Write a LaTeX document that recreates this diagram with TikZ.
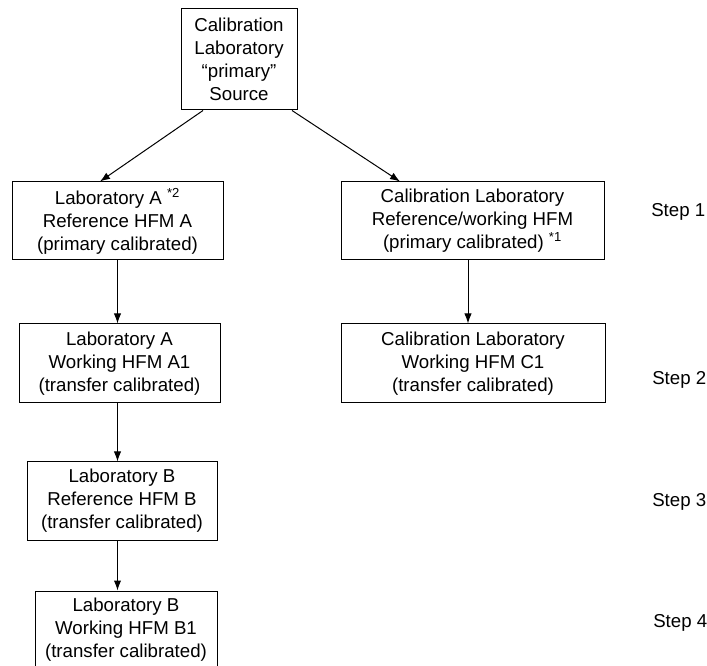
\documentclass[tikz,border=0pt]{standalone}
\usepackage{fontspec}
\setmainfont{Liberation Sans}
\usetikzlibrary{arrows.meta}

\begin{document}
\begin{tikzpicture}[x=0.75pt,y=0.75pt,yscale=-1,xscale=1,
  labbox/.style={draw, line width=0.75, align=center, inner sep=0pt, font=\fontsize{14}{17.25}\selectfont},
  steplabel/.style={anchor=west, inner sep=0pt, font=\fontsize{14}{17.25}\selectfont},
  flow/.style={line width=0.75, -{Latex[length=7.5pt,width=5.5pt]}}]
\useasboundingbox (0,0) rectangle (707,666);

%Shape: Rectangle [source]
\node [labbox, minimum width=116*0.75pt, minimum height=101*0.75pt] (src) at (239,59.5) {Calibration\\Laboratory\\“primary”\\Source};

%Shape: Rectangle [step 1]
\node [labbox, minimum width=211*0.75pt, minimum height=78*0.75pt] (refA) at (117.5,221) {Laboratory A \textsuperscript{*2}\\Reference HFM A\\(primary calibrated)};
\node [labbox, minimum width=263*0.75pt, minimum height=78*0.75pt] (refC) at (472.5,221) {Calibration Laboratory\\Reference/working HFM\\(primary calibrated) \textsuperscript{*1}};

%Shape: Rectangle [step 2]
\node [labbox, minimum width=201*0.75pt, minimum height=79*0.75pt] (wrkA) at (119.5,363.5) {Laboratory A\\Working HFM A1\\(transfer calibrated)};
\node [labbox, minimum width=264*0.75pt, minimum height=79*0.75pt] (wrkC) at (473,363.5) {Calibration Laboratory\\Working HFM C1\\(transfer calibrated)};

%Shape: Rectangle [step 3]
\node [labbox, minimum width=190*0.75pt, minimum height=78*0.75pt] (refB) at (122,501) {Laboratory B\\Reference HFM B\\(transfer calibrated)};

%Shape: Rectangle [step 4]
\node [labbox, minimum width=182*0.75pt, minimum height=78*0.75pt] (wrkB) at (126,630) {Laboratory B\\Working HFM B1\\(transfer calibrated)};

%Straight Lines
\draw [flow] ([xshift=-36*0.75pt]src.south) -- ([xshift=-17.5*0.75pt]refA.north);
\draw [flow] ([xshift=53*0.75pt]src.south) -- ([xshift=-72.5*0.75pt]refC.north);
\draw [flow] (refA.south) -- (refA.south |- wrkA.north);
\draw [flow] ([xshift=-4.5*0.75pt]refC.south) -- ([xshift=-4.5*0.75pt]refC.south |- wrkC.north);
\draw [flow] (wrkA.south -| refA.south) -- (refA.south |- refB.north);
\draw [flow] (refB.south -| refA.south) -- (refA.south |- wrkB.north);

% Text Node
\node [steplabel] (s1) at (651,212) {Step 1};
\node [steplabel] (s2) at (652,380) {Step 2};
\node [steplabel] (s3) at (652,502) {Step 3};
\node [steplabel] (s4) at (653,623) {Step 4};

\end{tikzpicture}
\end{document}
